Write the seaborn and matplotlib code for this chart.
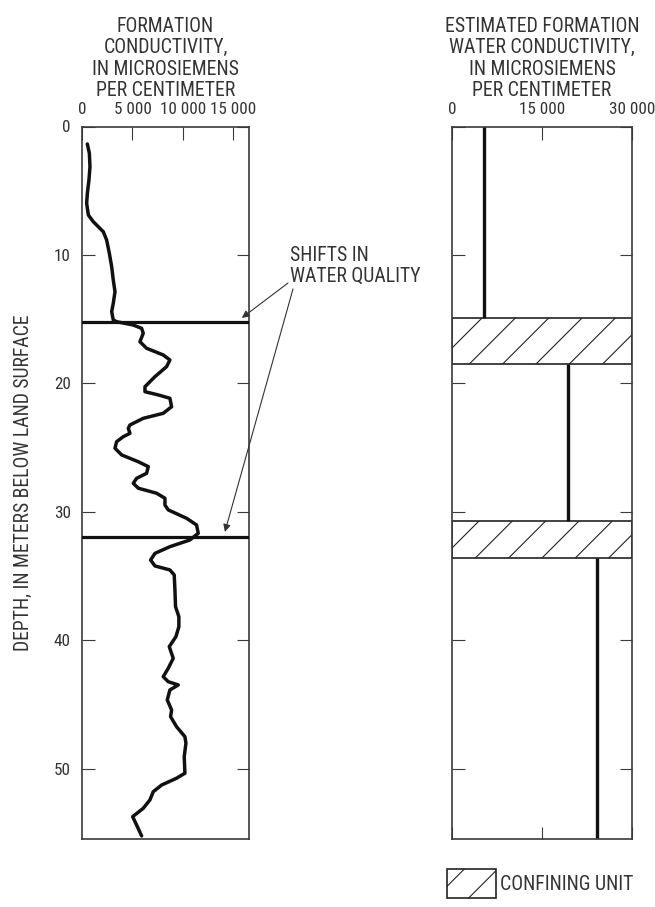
import numpy as np
import pandas as pd
import matplotlib
matplotlib.use("Agg")
import matplotlib.pyplot as plt
import matplotlib.font_manager as fm
from matplotlib.patches import Patch
import seaborn as sns

# ---------------- data ----------------
depth_m = [1.36, 2.09, 3.13, 4.16, 5.20, 5.98, 6.89, 7.41, 8.19, 8.83, 9.87, 10.91,
           11.95, 12.86, 13.76, 14.41, 15.06, 15.19, 15.45, 15.71, 16.09, 16.75, 17.26,
           17.78, 18.17, 18.69, 19.47, 20.25, 20.64, 20.89, 21.15, 21.81, 22.32, 22.71,
           23.23, 23.49, 23.88, 24.14, 24.53, 25.04, 25.56, 26.09, 26.47, 26.99, 27.38,
           27.77, 28.15, 28.54, 28.93, 29.46, 29.84, 30.49, 31.01, 31.66, 32.18, 32.70,
           33.22, 33.74, 34.20, 34.51, 34.90, 36.07, 37.37, 38.15, 38.93, 39.70, 40.48,
           41.39, 42.16, 42.82, 43.21, 43.46, 43.85, 44.63, 45.41, 45.93, 46.71, 47.49,
           48.00, 49.04, 50.33, 50.72, 51.25, 51.77, 52.41, 53.06, 53.71, 54.36, 55.21]
formation_cond = [530, 730, 790, 690, 530, 460, 630, 1120, 2110, 2440, 2710, 2940,
                  3100, 3270, 3100, 2940, 3100, 3430, 5080, 5910, 6070, 5740, 6400,
                  8050, 8710, 8380, 7230, 6240, 6240, 7560, 8710, 8880, 8050, 6070,
                  4750, 4590, 4750, 4090, 3430, 3270, 3930, 5580, 6570, 6400, 5410,
                  5080, 5580, 7390, 8220, 8220, 8550, 10360, 11350, 11520, 10690, 8710,
                  7230, 6800, 7230, 8710, 9140, 9210, 9270, 9600, 9600, 9310, 8650,
                  9040, 8550, 8050, 8550, 9540, 8710, 8450, 8880, 8780, 9370, 10200,
                  10300, 10130, 10200, 9370, 7890, 7060, 6730, 6070, 5020, 5410, 5910]

shift_depths = [15.2, 31.95]

# estimated formation water conductivity (step intervals)
water_cond = [5300, 19300, 24200]
water_top = [0.0, 18.5, 33.6]
water_bottom = [14.9, 30.7, 55.4]

confining_top = [14.9, 30.7]
confining_bottom = [18.5, 33.6]

left_xticks = [0, 5000, 10000, 15000]
left_xlabels = ["0", "5 000", "10 000", "15 000"]
right_xticks = [0, 15000, 30000]
right_xlabels = ["0", "15 000", "30 000"]
yticks = [0, 10, 20, 30, 40, 50]
ylabels = ["0", "10", "20", "30", "40", "50"]

left_title = "FORMATION\nCONDUCTIVITY,\nIN MICROSIEMENS\nPER CENTIMETER"
right_title = "ESTIMATED FORMATION\nWATER CONDUCTIVITY,\nIN MICROSIEMENS\nPER CENTIMETER"
ylab = "DEPTH, IN METERS BELOW LAND SURFACE"
note = "SHIFTS IN\nWATER QUALITY"
legend_label = "CONFINING UNIT"

# ---------------- style ----------------
sns.set_theme(style="ticks")


def pick_font():
    entries = fm.fontManager.ttflist
    def ok(e):
        w = e.weight
        return e.style == "normal" and (w in (400, "normal", "regular", "book"))
    for p in ["Liberation Sans Narrow", "Arial Narrow", "Roboto Condensed",
              "Noto Sans Condensed", "Open Sans Condensed", "DejaVu Sans Condensed"]:
        for e in entries:
            if e.name == p and ok(e):
                return e.name, e.stretch
    for fam in ["Roboto", "Noto Sans", "Open Sans", "Liberation Sans", "DejaVu Sans"]:
        for st in ("semi-condensed", "condensed"):
            for e in entries:
                if e.name == fam and e.stretch == st and ok(e):
                    return e.name, e.stretch
    return "Roboto", "normal"


FONT, STRETCH = pick_font()
plt.rcParams["font.family"] = [FONT, "DejaVu Sans"]
plt.rcParams["font.stretch"] = STRETCH
plt.rcParams["hatch.linewidth"] = 0.8
TXT = "#333333"
SP = "#3a3a3a"

fig = plt.figure(figsize=(6.55, 9.07), dpi=100)
fig.patch.set_facecolor("white")
_r = fig.canvas.get_renderer()


def width_at(s, size):
    t = fig.text(0, 0, s, fontsize=size)
    w = t.get_window_extent(renderer=_r).width
    t.remove()
    return w


FS_T = min(14.5, 13.0 * 97.0 / width_at("FORMATION", 13.0))
FS_K = min(14.5, 13.0 * 46.0 / width_at("10 000", 13.0))
FS_Y = min(14.5, 13.0 * 334.0 / width_at(ylab, 13.0))

ax1 = fig.add_axes([82 / 655, 1 - 839 / 907, 167 / 655, 712.5 / 907])
ax2 = fig.add_axes([452 / 655, 1 - 839 / 907, 180 / 655, 712.5 / 907])

df = pd.DataFrame({"depth": depth_m, "cond": formation_cond})
sns.lineplot(data=df, x="cond", y="depth", sort=False, estimator=None,
             color="#111111", lw=2.5, ax=ax1)
for ln in ax1.get_lines():
    ln.set_solid_joinstyle("round")
    ln.set_solid_capstyle("round")
for d in shift_depths:
    ax1.axhline(d, color="#111111", lw=2.3, zorder=3)

ax1.set_xlim(0, 16550)
ax1.set_ylim(55.45, 0)

# right panel
for t, b in zip(confining_top, confining_bottom):
    ax2.axhspan(t, b, xmin=0, xmax=1, facecolor="white", edgecolor="#222222",
                hatch="/", lw=1.2, zorder=2)
ax2.vlines(water_cond, water_top, water_bottom, color="#111111", lw=2.4, zorder=3)
ax2.set_xlim(0, 30000)
ax2.set_ylim(55.45, 0)

for ax in (ax1, ax2):
    for s in ax.spines.values():
        s.set_color(SP)
        s.set_linewidth(1.2)
        s.set_visible(True)
    ax.set_yticks(yticks)
    ax.tick_params(axis="y", direction="in", left=True, right=True, length=9,
                   width=0.8, color=SP, labelsize=FS_K, labelcolor=TXT, pad=8)
    ax.xaxis.set_label_position("top")

ax1.set_yticklabels(ylabels)
ax2.tick_params(axis="y", labelleft=False)

ax1.set_xticks(left_xticks)
ax1.set_xticklabels(left_xlabels)
ax1.tick_params(axis="x", direction="in", top=True, bottom=False, labeltop=True,
                labelbottom=False, length=9, width=0.8, color=SP, labelsize=FS_K,
                labelcolor=TXT, pad=7)
ax2.set_xticks(right_xticks)
ax2.set_xticklabels(right_xlabels)
ax2.tick_params(axis="x", direction="in", top=True, bottom=True, labeltop=True,
                labelbottom=False, length=9, width=0.8, color=SP, labelsize=FS_K,
                labelcolor=TXT, pad=7)

ax1.set_xlabel(left_title, fontsize=FS_T, color=TXT, linespacing=1.17, labelpad=4)
ax2.set_xlabel(right_title, fontsize=FS_T, color=TXT, linespacing=1.17, labelpad=4)
ax1.set_ylabel(ylab, fontsize=FS_Y, color=TXT)
ax1.yaxis.set_label_coords(-0.293, 0.5)

# annotation
fig.text(290 / 655, 1 - 246 / 907, note, ha="left", va="top",
         fontsize=FS_T, color=TXT, linespacing=1.15)
arrow = dict(arrowstyle="-|>", lw=0.8, color="#333333", mutation_scale=11,
             shrinkA=0, shrinkB=0)
ax1.annotate("", xy=(15840, 14.9), xycoords="data", xytext=(288, 907 - 283),
             textcoords="figure pixels", arrowprops=arrow, annotation_clip=False)
ax1.annotate("", xy=(14160, 31.55), xycoords="data", xytext=(293, 907 - 289),
             textcoords="figure pixels", arrowprops=arrow, annotation_clip=False)

# legend
handle = Patch(facecolor="white", edgecolor="#222222", hatch="/", lw=1.2,
               label=legend_label)
em = FS_T * 100 / 72.0
leg = fig.legend(handles=[handle], loc="lower left",
                 bbox_to_anchor=(447 / 655, 9 / 907), frameon=False,
                 fontsize=FS_T, handlelength=49 / em, handleheight=37 / em,
                 handletextpad=4 / em, borderpad=0, borderaxespad=0)
for t in leg.get_texts():
    t.set_color(TXT)

fig.savefig("out.png", dpi=100, facecolor="white")
